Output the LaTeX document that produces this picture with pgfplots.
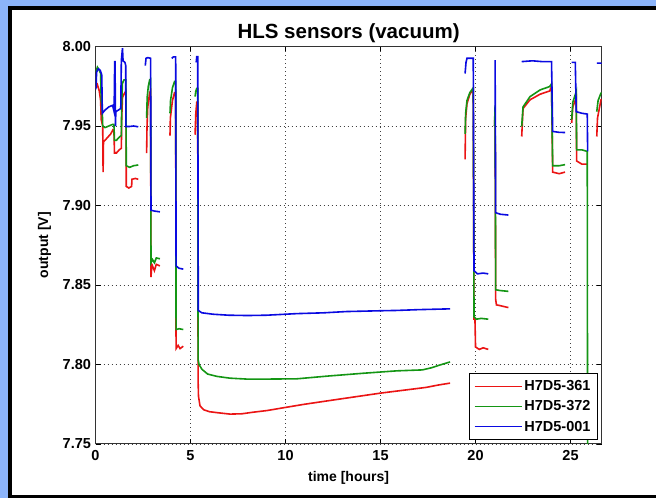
\documentclass[border=0pt]{standalone}
\usepackage{fontspec}
\setmainfont{Liberation Sans}
\usepackage{pgfplots}
\pgfplotsset{compat=1.18}
\definecolor{framebg}{RGB}{140,180,250}
\definecolor{sred}{RGB}{235,20,20}
\definecolor{sgreen}{RGB}{20,150,20}
\definecolor{sblue}{RGB}{10,10,225}

\begin{document}
\begin{tikzpicture}[x=1pt,y=1pt]
% window frame
\fill[framebg] (0,0) rectangle (656,498);
\fill[black] (8,0) rectangle (656,492);
\fill[white] (11.5,3) rectangle (656,488);
\begin{axis}[
  at={(95.5pt,54pt)}, anchor=south west,
  scale only axis, width=506.2pt, height=397.5pt,
  xmin=0, xmax=26.64, ymin=7.75, ymax=8.00,
  xtick={0,5,10,15,20,25},
  ytick={7.75,7.80,7.85,7.90,7.95,8.00},
  yticklabel style={/pgf/number format/fixed, /pgf/number format/fixed zerofill,
    /pgf/number format/precision=2, xshift=-1pt},
  xticklabel style={yshift=-3pt},
  /pgf/number format/assume math mode=true,
  tick label style={font=\fontsize{14.5}{17}\selectfont\bfseries},
  tick align=inside, major tick length=5pt,
  every tick/.style={black, line width=0.8pt},
  axis line style={black!80, line width=1pt},
  grid=major,
  major grid style={black!75, line width=0.9pt, dash pattern=on 1pt off 3pt},
  title={HLS sensors (vacuum)},
  title style={font=\fontsize{20.5}{24}\selectfont\bfseries, at={(axis description cs:0.5,1)},
    anchor=south, inner sep=0pt, yshift=-2.5pt},
  xlabel={time [hours]},
  ylabel={output [V]},
  label style={font=\fontsize{14}{16}\selectfont\bfseries},
  xlabel style={at={(axis description cs:0.5,-0.0855)}, anchor=center},
  ylabel style={at={(axis description cs:-0.1008,0.5)}, anchor=center},
  unbounded coords=jump,
  legend cell align=left,
  legend image code/.code={\draw[#1, line width=1.4pt] (0pt,0pt) -- (47pt,0pt);},
  legend style={at={(axis description cs:0.9927,0.01)}, anchor=south east,
    draw=black, line width=1pt, fill=white,
    font=\fontsize{14.5}{17}\selectfont\bfseries,
    inner xsep=5pt, inner ysep=5pt, row sep=4.5pt,
    /tikz/every even column/.append style={column sep=0pt}},
  every axis plot/.append style={line width=1.6pt, no markers},
]
% H7D5-361
\addplot[sred] coordinates {
 (0.02,7.974) (0.1,7.976) (0.2,7.972) (0.27,7.966) (0.3,7.954) (0.38,7.950)
 (0.40,7.921) (0.42,7.940) (0.5,7.941) (0.65,7.943) (0.8,7.945) (0.92,7.9476)
 (0.97,7.947) (1.0,7.933) (1.1,7.933) (1.25,7.935) (1.36,7.936) (1.38,7.955)
 (1.42,7.968) (1.5,7.970) (1.6,7.972) (1.62,7.912) (1.75,7.911) (1.9,7.912)
 (1.92,7.9165) (2.1,7.917) (2.25,7.9165) (2.3,nan)
 (2.69,7.933) (2.71,7.949) (2.75,7.962) (2.85,7.971) (2.9,7.972) (2.92,7.855)
 (2.95,7.860) (3.0,7.862) (3.1,7.859) (3.2,7.863) (3.39,7.862) (3.5,nan)
 (3.92,7.944) (3.94,7.955) (4.05,7.966) (4.16,7.971) (4.22,7.971) (4.24,7.810)
 (4.35,7.812) (4.45,7.810) (4.62,7.8115) (4.8,nan)
 (5.24,7.9445) (5.28,7.958) (5.33,7.965) (5.38,7.965) (5.4,7.790) (5.42,7.780)
 (5.5,7.774) (5.7,7.7715) (6.0,7.7703) (6.55,7.7695) (7.08,7.7688) (7.7,7.769)
 (8.3,7.770) (9.0,7.771) (9.7,7.7724) (11.0,7.775) (12.7,7.778) (15.0,7.782)
 (16.0,7.7835) (17.4,7.7856) (18.0,7.787) (18.66,7.7883) (19.0,nan)
 (19.45,7.929) (19.48,7.955) (19.55,7.964) (19.7,7.970) (19.88,7.973)
 (19.92,7.8285) (19.97,7.8285) (20.0,7.811) (20.2,7.8095) (20.4,7.8105)
 (20.67,7.8095) (20.8,nan)
 (21.0,7.950) (21.03,7.958) (21.06,7.841) (21.1,7.8375) (21.3,7.837)
 (21.73,7.8358) (22.0,nan)
 (22.43,7.9434) (22.5,7.961) (22.87,7.9665) (23.4,7.970) (23.9,7.972)
 (24.0,7.9748) (24.06,7.921) (24.4,7.920) (24.71,7.921) (24.9,nan)
 (25.06,7.952) (25.12,7.962) (25.3,7.9677) (25.32,7.928) (25.6,7.926)
 (25.88,7.926) (26.1,nan)
 (26.38,7.9434) (26.42,7.955) (26.6,7.9664) (26.64,7.967)
};
% H7D5-372
\addplot[sgreen] coordinates {
 (0.02,7.984) (0.1,7.987) (0.2,7.985) (0.27,7.983) (0.3,7.966) (0.35,7.962)
 (0.38,7.950) (0.5,7.949) (0.7,7.950) (0.9,7.951) (0.97,7.951) (1.0,7.941)
 (1.1,7.941) (1.25,7.943) (1.36,7.944) (1.38,7.965) (1.42,7.977) (1.5,7.979)
 (1.6,7.979) (1.62,7.925) (1.8,7.924) (2.0,7.925) (2.25,7.9255) (2.3,nan)
 (2.69,7.955) (2.72,7.968) (2.78,7.975) (2.85,7.979) (2.9,7.9795) (2.92,7.864)
 (3.0,7.866) (3.1,7.864) (3.2,7.867) (3.39,7.8665) (3.5,nan)
 (3.92,7.958) (3.95,7.966) (4.05,7.974) (4.16,7.978) (4.22,7.978) (4.24,7.822)
 (4.4,7.8225) (4.62,7.822) (4.8,nan)
 (5.24,7.9685) (5.28,7.972) (5.33,7.9737) (5.38,7.9737) (5.4,7.803)
 (5.45,7.800) (5.6,7.797) (5.9,7.794) (6.4,7.7925) (7.08,7.7914) (8.0,7.7908)
 (8.8,7.7908) (10.6,7.791) (12.3,7.7928) (14.1,7.7945) (15.85,7.796)
 (17.2,7.7966) (17.7,7.798) (18.1,7.7996) (18.66,7.8016) (19.0,nan)
 (19.45,7.945) (19.48,7.958) (19.55,7.966) (19.7,7.971) (19.88,7.974)
 (19.92,7.830) (20.05,7.8285) (20.3,7.829) (20.67,7.8285) (20.8,nan)
 (21.0,7.950) (21.03,7.963) (21.06,7.847) (21.3,7.8465) (21.73,7.846) (22.0,nan)
 (22.43,7.9497) (22.5,7.962) (22.87,7.9685) (23.4,7.9727) (23.9,7.9748)
 (24.0,7.9765) (24.06,7.925) (24.4,7.925) (24.71,7.9257) (24.9,nan)
 (25.06,7.954) (25.12,7.965) (25.3,7.9716) (25.32,7.935) (25.6,7.935)
 (25.88,7.934) (25.9,7.70) (26.1,nan)
 (26.38,7.959) (26.45,7.966) (26.6,7.9706) (26.64,7.971)
};
% H7D5-001
\addplot[sblue] coordinates {
 (0.02,7.973) (0.06,7.984) (0.15,7.986) (0.25,7.985) (0.33,7.982) (0.36,7.958)
 (0.5,7.960) (0.7,7.962) (0.9,7.963) (0.98,7.959) (1.01,7.9905) (1.03,7.9905)
 (1.05,7.950) (1.07,7.959) (1.2,7.960) (1.33,7.961) (1.36,7.991) (1.42,7.999)
 (1.45,7.991) (1.55,7.990) (1.59,7.988) (1.6,7.9497) (1.8,7.9497) (2.0,7.950)
 (2.25,7.9495) (2.4,nan)
 (2.62,7.988) (2.66,7.9926) (2.75,7.993) (2.9,7.9926) (2.92,7.897) (3.1,7.8965)
 (3.39,7.896) (3.5,nan)
 (4.01,7.9925) (4.1,7.9935) (4.22,7.9935) (4.24,7.862) (4.4,7.8605) (4.62,7.860)
 (4.8,nan)
 (5.30,7.990) (5.33,7.9936) (5.38,7.9936) (5.41,7.834) (5.6,7.8325) (6.2,7.8316)
 (7.0,7.831) (8.0,7.8308) (9.0,7.831) (10.6,7.832) (12.0,7.8325) (13.2,7.8333)
 (15.0,7.8338) (15.85,7.834) (17.0,7.8345) (18.66,7.835) (19.0,nan)
 (19.45,7.983) (19.5,7.990) (19.55,7.9926) (19.88,7.9926) (19.92,7.859)
 (20.1,7.857) (20.4,7.8575) (20.67,7.857) (20.8,nan)
 (21.03,7.9915) (21.06,7.8955) (21.3,7.8945) (21.73,7.894) (22.0,nan)
 (22.43,7.9905) (23.0,7.991) (23.5,7.9905) (24.0,7.9905) (24.06,7.9466)
 (24.4,7.946) (24.71,7.9459) (24.9,nan)
 (25.06,7.990) (25.25,7.990) (25.3,7.959) (25.6,7.958) (25.88,7.9575)
 (25.9,7.934) (26.1,nan)
 (26.38,7.9895) (26.64,7.9895)
};
\legend{H7D5-361,H7D5-372,H7D5-001}
\end{axis}
\pgfresetboundingbox
\path[use as bounding box] (0,0) rectangle (656,498);
\end{tikzpicture}
\end{document}
